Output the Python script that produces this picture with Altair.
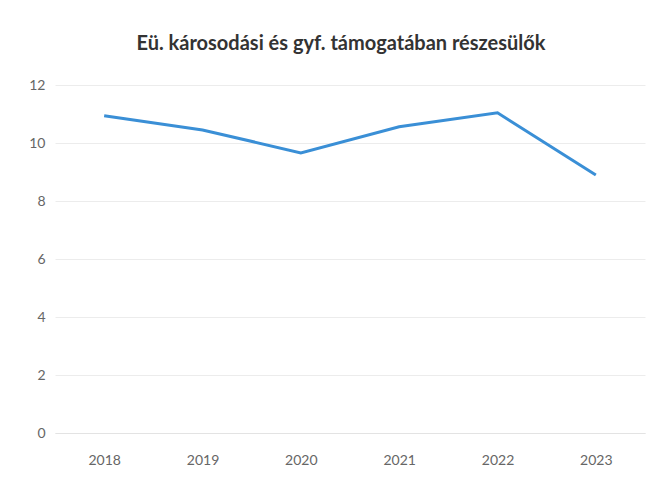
import altair as alt
import pandas as pd

years = ["2018", "2019", "2020", "2021", "2022", "2023"]
values = [10.94, 10.45, 9.66, 10.56, 11.04, 8.9]
y_ticks = [0, 2, 4, 6, 8, 10, 12]
title_text = "Eü. károsodási és gyf. támogatában részesülők"

df = pd.DataFrame({"year": years, "value": values})

chart = alt.Chart(df).mark_line(color="#3a8fd6", strokeWidth=3).encode(
    x=alt.X("year:O", scale=alt.Scale(type="point", padding=0.5),
            axis=alt.Axis(title=None, labelAngle=0, ticks=False, grid=False,
                          domainColor="#e3e3e3", labelPadding=20,
                          labelFontSize=14, labelColor="#666666",
                          labelFont="Lato")),
    y=alt.Y("value:Q", scale=alt.Scale(domain=[0, 12], nice=False),
            axis=alt.Axis(title=None, values=y_ticks, ticks=False, domain=False,
                          gridColor="#ececec", labelPadding=10,
                          labelFontSize=14, labelColor="#666666",
                          labelFont="Lato")),
).properties(
    width=590, height=348,
    autosize=alt.AutoSizeParams(type="none"),
    padding={"left": 47, "top": 77, "right": 5, "bottom": 40},
    title=alt.TitleParams(title_text, fontSize=20, font="Lato", fontWeight="bold",
                          color="#333333", anchor="middle", baseline="alphabetic",
                          offset=8, dx=-9),
).configure_view(stroke=None)

chart.save("out.html", embed_options={"renderer": "svg", "actions": False})
